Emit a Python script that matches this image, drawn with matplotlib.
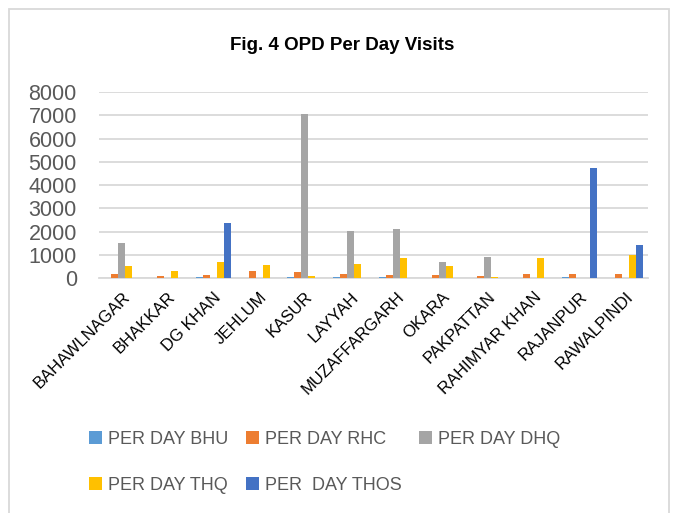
import matplotlib
matplotlib.use("Agg")
import matplotlib.pyplot as plt
import numpy as np
from matplotlib.patches import Rectangle

plt.rcParams['font.family'] = ['Liberation Sans', 'DejaVu Sans']

districts = ["BAHAWLNAGAR", "BHAKKAR", "DG KHAN", "JEHLUM", "KASUR", "LAYYAH",
             "MUZAFFARGARH", "OKARA", "PAKPATTAN", "RAHIMYAR KHAN", "RAJANPUR", "RAWALPINDI"]

bhu = [20, 10, 50, 10, 50, 50, 50, 10, 0, 10, 50, 10]
rhc = [180, 110, 140, 310, 255, 170, 140, 140, 100, 200, 185, 185]
dhq = [1515, 0, 0, 0, 7050, 2030, 2110, 715, 915, 0, 0, 0]
thq = [530, 310, 690, 560, 100, 610, 860, 530, 50, 885, 0, 1000]
thos = [0, 0, 2360, 0, 0, 0, 0, 0, 0, 0, 4720, 1415]

series = [("PER DAY BHU", bhu, "#5B9BD5"),
          ("PER DAY RHC", rhc, "#ED7D31"),
          ("PER DAY DHQ", dhq, "#A5A5A5"),
          ("PER DAY THQ", thq, "#FFC000"),
          ("PER  DAY THOS", thos, "#4472C4")]

fig = plt.figure(figsize=(6.74, 5.13), dpi=100)
ax = fig.add_axes([99 / 674, 1 - 278.3 / 513, 549 / 674, 186.3 / 513])

x = np.arange(len(districts))
w = 0.153
handles = {}
for i, (name, vals, col) in enumerate(series):
    b = ax.bar(x + (i - 2) * w, vals, w, color=col, label=name, zorder=3)
    handles[name] = b

ax.set_xlim(-0.5, len(districts) - 0.5)
ax.set_ylim(0, 8000)
ax.set_yticks(range(0, 8001, 1000))
ax.yaxis.grid(True, color="#D9D9D9", linewidth=1.3, zorder=0)
ax.set_axisbelow(True)
for s in ["top", "right", "left"]:
    ax.spines[s].set_visible(False)
ax.spines["bottom"].set_color("#D9D9D9")
ax.spines["bottom"].set_linewidth(1.3)
ax.tick_params(axis="both", length=0, colors="#595959")
ax.tick_params(axis="y", labelsize=15.5, pad=16)
ax.set_xticks(x)
ax.set_xticklabels(districts, rotation=45, ha="right", va="top",
                   rotation_mode="anchor", fontsize=12, color="#000000")
ax.tick_params(axis="x", pad=8)

fig.text(342 / 674, 1 - 46 / 513, "Fig. 4 OPD Per Day Visits", ha="center", va="center",
         fontsize=13.5, fontweight="bold")

# legend filled column-wise, so reorder to get Excel's row layout
order = ["PER DAY BHU", "PER DAY THQ", "PER DAY RHC", "PER  DAY THOS", "PER DAY DHQ"]
leg = fig.legend([handles[n] for n in order], order, ncol=3, loc="upper left",
                 bbox_to_anchor=(89 / 674, 1 - 431 / 513), frameon=False,
                 fontsize=13, handlelength=0.73, handleheight=0.73,
                 handletextpad=0.34, columnspacing=0.95, labelspacing=1.6,
                 borderpad=0, borderaxespad=0)
for t in leg.get_texts():
    t.set_color("#595959")

fig.patches.append(Rectangle((9 / 674, -0.1), 660 / 674, 1.1 - 9 / 513,
                             transform=fig.transFigure, fill=False,
                             edgecolor="#D9D9D9", linewidth=1.3))

fig.savefig("out.png", dpi=100)
